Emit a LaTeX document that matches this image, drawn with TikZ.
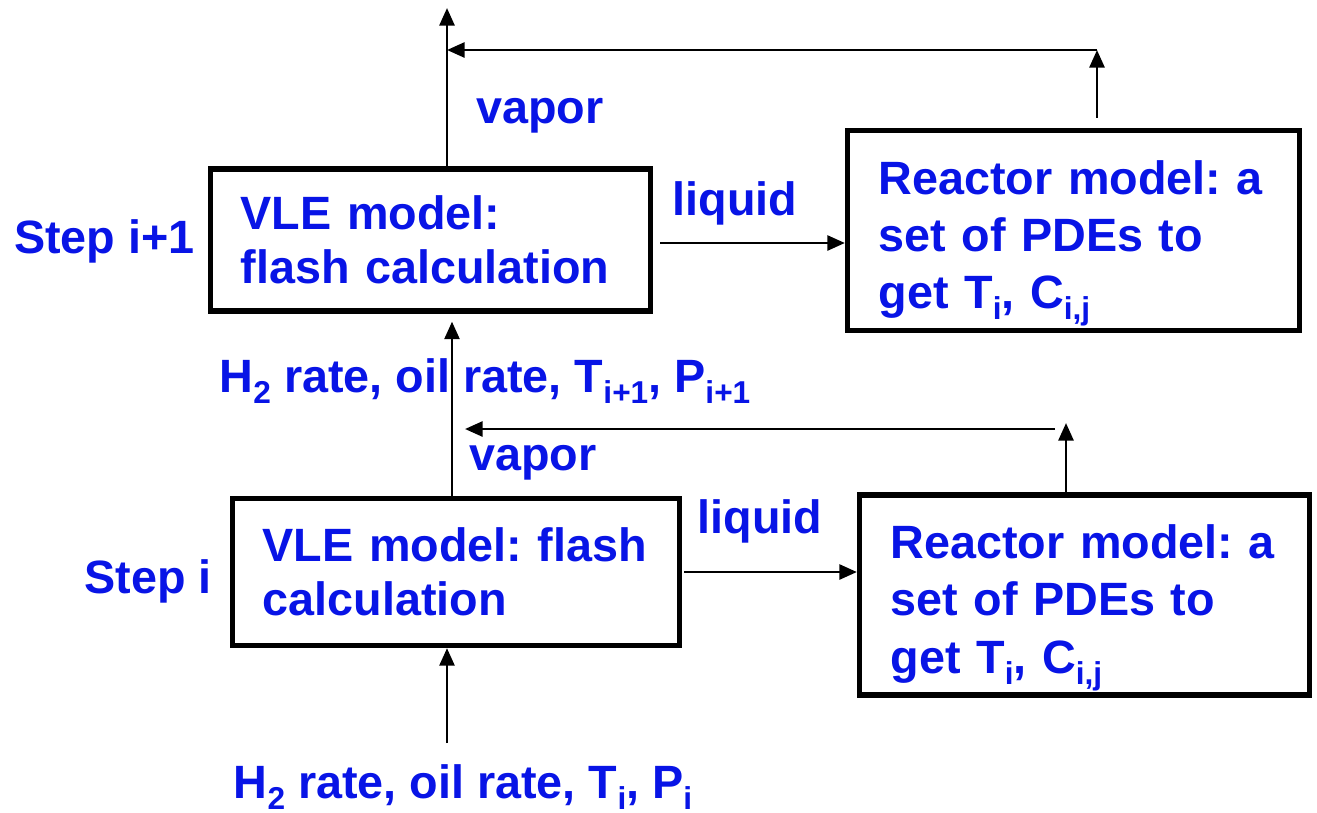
\documentclass[tikz,border=0pt]{standalone}
\usepackage{fontspec}
\setmainfont{Liberation Sans}
\usetikzlibrary{arrows.meta,positioning,calc}
\definecolor{txtblue}{RGB}{8,20,230}
\newcommand{\lowtxt}[1]{\raisebox{-0.24em}{\fontsize{18}{18}\selectfont #1}}

\begin{document}
\begin{tikzpicture}[
 x=0.02cm, y=-0.02cm,
 font=\fontsize{26.6}{31}\selectfont\bfseries\frenchspacing,
 vlebox/.style={rectangle, draw, line width=3pt, inner xsep=0.6cm, inner ysep=0pt, align=left, text=txtblue},
 rctbox/.style={rectangle, draw, line width=3pt, inner xsep=0.62cm, inner ysep=0pt, minimum height=4cm, align=left, text=txtblue, font=\fontsize{26.6}{32.5}\selectfont\bfseries\frenchspacing, execute at begin node={\rule{0pt}{34pt}}},
 lbl/.style={inner sep=0pt, text=txtblue},
 arr/.style={-{Triangle[length=10pt,width=8.5pt]}, line width=1.6pt},
]
\useasboundingbox (0,0) rectangle (1317,812);

\node[vlebox, text width=7.6cm, minimum height=2.84cm] (vle2) at (430.5,240) {VLE model:\\flash calculation};
\node[rctbox, text width=7.8cm] (rct2) at (1073.5,230.5) {Reactor model: a\\set of PDEs to\\get T\lowtxt{i}, C\lowtxt{i,j}};
\node[vlebox, text width=7.74cm, minimum height=2.94cm] (vle1) at (456,572) {VLE model: flash\\calculation};
\node[rctbox, text width=7.76cm] (rct1) at (1084.5,595) {Reactor model: a\\set of PDEs to\\get T\lowtxt{i}, C\lowtxt{i,j}};

\node[lbl, anchor=base east] (step2) at (195,253) {Step i+1};
\node[lbl, anchor=base east] (step1) at (212,593) {Step i};
\node[lbl, anchor=base] (vap2) at (540,123) {vapor};
\node[lbl, anchor=base] (liq2) at (735,215) {liquid};
\node[lbl, anchor=base] (feed2) at (485,392) {H\lowtxt{2} rate, oil rate, T\lowtxt{i+1}, P\lowtxt{i+1}};
\node[lbl, anchor=base] (vap1) at (533,470) {vapor};
\node[lbl, anchor=base] (liq1) at (760,533) {liquid};
\node[lbl, anchor=base] (feed1) at (463,798) {H\lowtxt{2} rate, oil rate, T\lowtxt{i}, P\lowtxt{i}};

% step i+1
\coordinate (top2) at (447,8);
\draw[arr] (vle2.north -| top2) -- (top2);
\coordinate (ret2) at (1097,50);
\draw[arr] ($(rct2.north -| ret2)+(0,-10)$) -- (ret2);
\draw[arr] (ret2) -- (ret2 -| top2);
\coordinate (l2) at ($(vle2.east)+(7,3)$);
\draw[arr] (l2) -- (l2 -| rct2.west);

% step i
\coordinate (xmid) at (452,0);
\draw[arr] (vle1.north -| xmid) -- ($(vle2.south -| xmid)+(0,8)$);
\coordinate (ret1) at (1066,423);
\draw[arr] (rct1.north -| ret1) -- (ret1);
\coordinate (ret1s) at (1055,429);
\coordinate (back1) at (465,429);
\draw[arr] (ret1s) -- (back1);
\draw[arr] ($(vle1.east)+(2,0)$) -- (vle1.east -| rct1.west);
\coordinate (in1) at (447,743);
\draw[arr] (in1) -- (vle1.south -| in1);

\end{tikzpicture}
\end{document}
